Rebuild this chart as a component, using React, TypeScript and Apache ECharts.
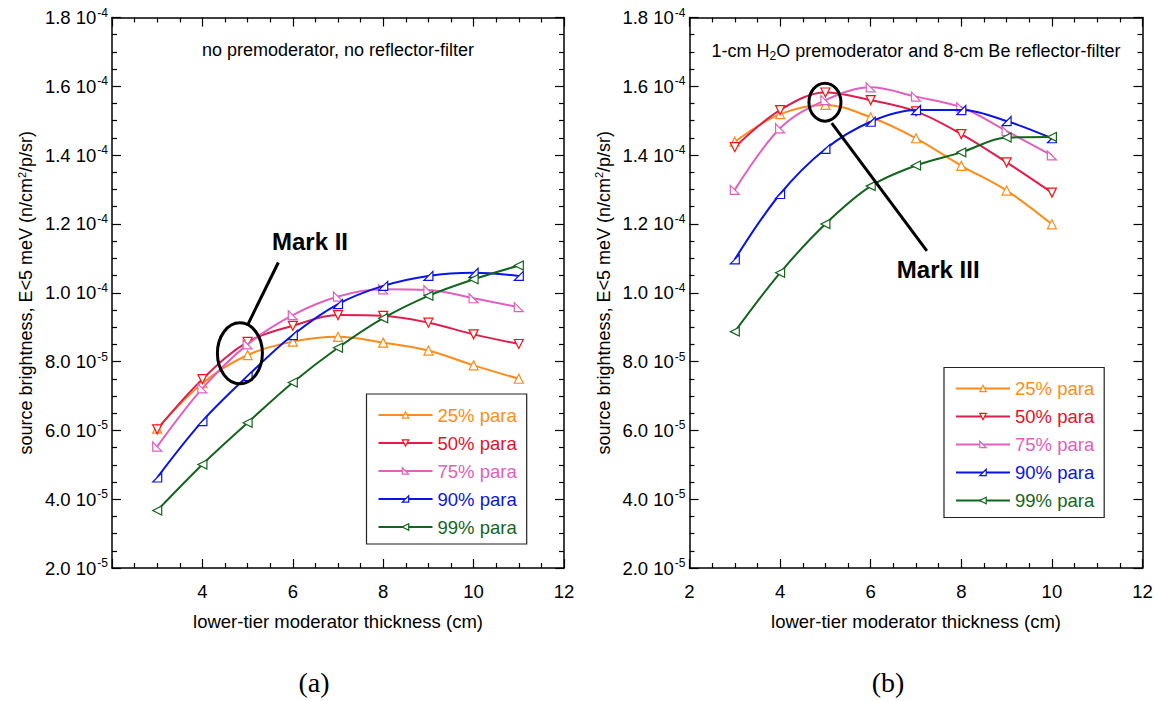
import React, { useEffect, useRef } from "react";
import * as echarts from "echarts";

// Lower-tier moderator thickness (cm)
const thicknessA = [3, 4, 5, 6, 7, 8, 9, 10, 11];
const thicknessB = [3, 4, 5, 6, 7, 8, 9, 10];

// Source brightness, E<5 meV (n/cm^2/p/sr) — (a) no premoderator, no reflector-filter
const a25 = [6.05e-5, 7.37e-5, 8.19e-5, 8.58e-5, 8.72e-5, 8.55e-5, 8.32e-5, 7.89e-5, 7.5e-5];
const a50 = [6.03e-5, 7.49e-5, 8.57e-5, 9.04e-5, 9.35e-5, 9.33e-5, 9.13e-5, 8.79e-5, 8.51e-5];
const a75 = [5.53e-5, 7.22e-5, 8.5e-5, 9.35e-5, 9.89e-5, 1.01e-4, 1.008e-4, 9.84e-5, 9.58e-5];
const a90 = [4.63e-5, 6.27e-5, 7.58e-5, 8.77e-5, 9.67e-5, 1.02e-4, 1.049e-4, 1.058e-4, 1.049e-4];
const a99 = [3.67e-5, 5.01e-5, 6.22e-5, 7.39e-5, 8.4e-5, 9.26e-5, 9.91e-5, 1.039e-4, 1.079e-4];

// (b) 1-cm H2O premoderator and 8-cm Be reflector-filter
const b25 = [1.439e-4, 1.519e-4, 1.546e-4, 1.51e-4, 1.449e-4, 1.369e-4, 1.297e-4, 1.199e-4];
const b50 = [1.423e-4, 1.531e-4, 1.582e-4, 1.56e-4, 1.527e-4, 1.461e-4, 1.379e-4, 1.291e-4];
const b75 = [1.299e-4, 1.478e-4, 1.56e-4, 1.597e-4, 1.57e-4, 1.539e-4, 1.47e-4, 1.399e-4];
const b90 = [1.097e-4, 1.287e-4, 1.418e-4, 1.497e-4, 1.531e-4, 1.531e-4, 1.499e-4, 1.449e-4];
const b99 = [8.87e-5, 1.058e-4, 1.2e-4, 1.31e-4, 1.37e-4, 1.408e-4, 1.451e-4, 1.453e-4];

const seriesNames = ["25% para", "50% para", "75% para", "90% para", "99% para"];
const lineColors = ["#ff8c1a", "#dc1e50", "#e060c0", "#0a14e6", "#14641e"];
const textColors = ["#ff8c1a", "#e8102a", "#e060c0", "#0a14e6", "#14641e"];
const markerColors = ["#ff8c1a", "#ff1010", "#e060c0", "#0a14e6", "#14641e"];
const markers = [
  "triangle",
  "path://M0,0 L10,0 L5,9 Z",
  "path://M0,0 L0,8 L10,8 Z",
  "path://M10,0 L10,8 L0,8 Z",
  "path://M10,0 L10,10 L0,5 Z",
];

const FONT = 'Arial, "Liberation Sans", Helvetica, sans-serif';

function sciLabel(v: number): string {
  const exp = Math.floor(Math.log10(v) + 1e-9);
  const mant = v / Math.pow(10, exp);
  return `{m|${mant.toFixed(1)} 10}{e|${exp}}`;
}

const yRich = {
  m: { fontSize: 18.5, fontFamily: FONT, color: "#000", lineHeight: 22 },
  e: { fontSize: 12, fontFamily: FONT, color: "#000", verticalAlign: "top", lineHeight: 22, padding: [0, 0, 0, 1] },
};

function buildAxes(grid: number, hideFirstX: boolean) {
  const tickStyle = { color: "#000", width: 1.2 };
  const lineStyle = { color: "#000", width: 1.5 };
  const xBase = {
    gridIndex: grid,
    type: "value",
    min: 2,
    max: 12,
    interval: 2,
    splitLine: { show: false },
    axisLine: { show: true, onZero: false, lineStyle },
    axisTick: { show: true, inside: true, length: 9, lineStyle: tickStyle },
    minorTick: { show: true, splitNumber: 4, length: 5, lineStyle: tickStyle },
  };
  const yBase = {
    gridIndex: grid,
    type: "value",
    min: 2e-5,
    max: 1.8e-4,
    interval: 2e-5,
    splitLine: { show: false },
    axisLine: { show: true, onZero: false, lineStyle },
    axisTick: { show: true, inside: true, length: 9, lineStyle: tickStyle },
    minorTick: { show: true, splitNumber: 4, length: 5, lineStyle: tickStyle },
  };
  const xAxes = [
    {
      ...xBase,
      position: "bottom",
      name: "lower-tier moderator thickness (cm)",
      nameLocation: "middle",
      nameGap: 44,
      nameTextStyle: { fontSize: 18.5, fontFamily: FONT, color: "#000" },
      axisLabel: {
        show: true,
        margin: 14,
        fontSize: 18.5,
        fontFamily: FONT,
        color: "#000",
        formatter: (v: number) => (hideFirstX && v === 2 ? "" : String(v)),
      },
    },
    { ...xBase, position: "top", axisLabel: { show: false } },
  ];
  const yAxes = [
    {
      ...yBase,
      position: "left",
      name: "source brightness, E<5 meV (n/cm{s|2}/p/sr)",
      nameLocation: "middle",
      nameGap: 76,
      nameTextStyle: {
        fontSize: 18,
        fontFamily: FONT,
        color: "#000",
        rich: { s: { fontSize: 11, fontFamily: FONT, color: "#000", verticalAlign: "top", lineHeight: 20 } },
      },
      axisLabel: { show: true, margin: 4, formatter: sciLabel, rich: yRich },
    },
    { ...yBase, position: "right", axisLabel: { show: false } },
  ];
  return { xAxes, yAxes };
}

function buildSeries(grid: number, xs: number[], sets: number[][]) {
  return sets.map((vals, i) => ({
    type: "line",
    name: seriesNames[i],
    xAxisIndex: grid * 2,
    yAxisIndex: grid * 2,
    data: xs.map((x, k) => [x, vals[k]]),
    smooth: 0.35,
    symbol: markers[i],
    symbolSize: 9,
    showAllSymbol: true,
    lineStyle: { color: lineColors[i], width: 2 },
    itemStyle: { color: "#ffffff", borderColor: markerColors[i], borderWidth: 1.2 },
    z: 3 + i,
  }));
}

function buildLegend(left: number, top: number) {
  return {
    left,
    top,
    orient: "vertical",
    selectedMode: false,
    backgroundColor: "#fff",
    borderColor: "#222",
    borderWidth: 1.2,
    padding: [11, 10, 7, 11],
    itemWidth: 54,
    itemHeight: 8,
    itemGap: 8,
    itemStyle: { color: "#ffffff", borderWidth: 1.2 },
    textStyle: { fontSize: 18.5, fontFamily: FONT, lineHeight: 20 },
    data: seriesNames.map((n, i) => ({
      name: n,
      textStyle: { color: textColors[i] },
      itemStyle: { color: "#ffffff", borderColor: markerColors[i], borderWidth: 1.2 },
    })),
  };
}

export default function App() {
  const ref = useRef<HTMLDivElement>(null);

  useEffect(() => {
    if (!ref.current) return;
    const chart = echarts.init(ref.current, undefined, { renderer: "svg" });

    const A = buildAxes(0, true);
    const B = buildAxes(1, false);

    chart.setOption({
      animation: false,
      backgroundColor: "#fff",
      grid: [
        { left: 112, top: 17.5, width: 452, height: 550.5 },
        { left: 689.5, top: 17.5, width: 453, height: 550.5 },
      ],
      xAxis: [...A.xAxes, ...B.xAxes],
      yAxis: [...A.yAxes, ...B.yAxes],
      legend: [buildLegend(366.5, 394), buildLegend(944, 367.5)],
      series: [
        ...buildSeries(0, thicknessA, [a25, a50, a75, a90, a99]),
        ...buildSeries(1, thicknessB, [b25, b50, b75, b90, b99]),
      ],
    });

    // Callout annotations, anchored in data coordinates of each panel
    const px = (grid: number, x: number, y: number) =>
      chart.convertToPixel({ gridIndex: grid } as any, [x, y]) as number[];

    const e1 = px(0, 4.83, 8.24e-5);
    const l1a = px(0, 5.01, 9.09e-5);
    const l1b = px(0, 5.68, 1.088e-4);
    const t1 = px(0, 6.38, 1.149e-4);
    const e2 = px(1, 4.99, 1.554e-4);
    const l2a = px(1, 5.14, 1.493e-4);
    const l2b = px(1, 7.24, 1.122e-4);
    const t2 = px(1, 7.49, 1.068e-4);
    const s1 = px(0, 7, 1.8e-4);
    const s2 = px(1, 7, 1.8e-4);

    const stroke = { stroke: "#000", lineWidth: 3, fill: "none" };

    chart.setOption({
      graphic: [
        { type: "ellipse", shape: { cx: e1[0], cy: e1[1], rx: 22.5, ry: 30.5 }, style: stroke, z: 20 },
        { type: "line", shape: { x1: l1a[0], y1: l1a[1], x2: l1b[0], y2: l1b[1] }, style: stroke, z: 20 },
        {
          type: "text",
          x: t1[0],
          y: t1[1],
          style: { text: "Mark II", fontSize: 24, fontWeight: "bold", fontFamily: FONT, fill: "#000", align: "center", verticalAlign: "middle" },
          z: 20,
        },
        { type: "ellipse", shape: { cx: e2[0], cy: e2[1], rx: 16, ry: 19 }, style: stroke, z: 20 },
        { type: "line", shape: { x1: l2a[0], y1: l2a[1], x2: l2b[0], y2: l2b[1] }, style: stroke, z: 20 },
        {
          type: "text",
          x: t2[0],
          y: t2[1],
          style: { text: "Mark III", fontSize: 24, fontWeight: "bold", fontFamily: FONT, fill: "#000", align: "center", verticalAlign: "middle" },
          z: 20,
        },
        {
          type: "text",
          x: s1[0],
          y: s1[1] + 32,
          style: { text: "no premoderator, no reflector-filter", fontSize: 18, fontFamily: FONT, fill: "#000", align: "center", verticalAlign: "middle" },
          z: 20,
        },
        {
          type: "text",
          x: s2[0],
          y: s2[1] + 33,
          style: {
            text: "1-cm H{s|2}O premoderator and 8-cm Be reflector-filter",
            fontSize: 18,
            fontFamily: FONT,
            fill: "#000",
            align: "center",
            verticalAlign: "middle",
            rich: { s: { fontSize: 12, fontFamily: FONT, fill: "#000", verticalAlign: "bottom", lineHeight: 22 } },
          },
          z: 20,
        },
        {
          type: "text",
          x: 314,
          y: 682,
          style: { text: "(a)", fontSize: 28, fontFamily: '"Liberation Serif", "Times New Roman", serif', fill: "#000", align: "center", verticalAlign: "middle" },
        },
        {
          type: "text",
          x: 888,
          y: 682,
          style: { text: "(b)", fontSize: 28, fontFamily: '"Liberation Serif", "Times New Roman", serif', fill: "#000", align: "center", verticalAlign: "middle" },
        },
      ],
    });

    return () => chart.dispose();
  }, []);

  return (
    <div
      ref={ref}
      style={{ position: "fixed", left: 0, top: 0, width: 1157, height: 701, background: "#fff" }}
    />
  );
}
